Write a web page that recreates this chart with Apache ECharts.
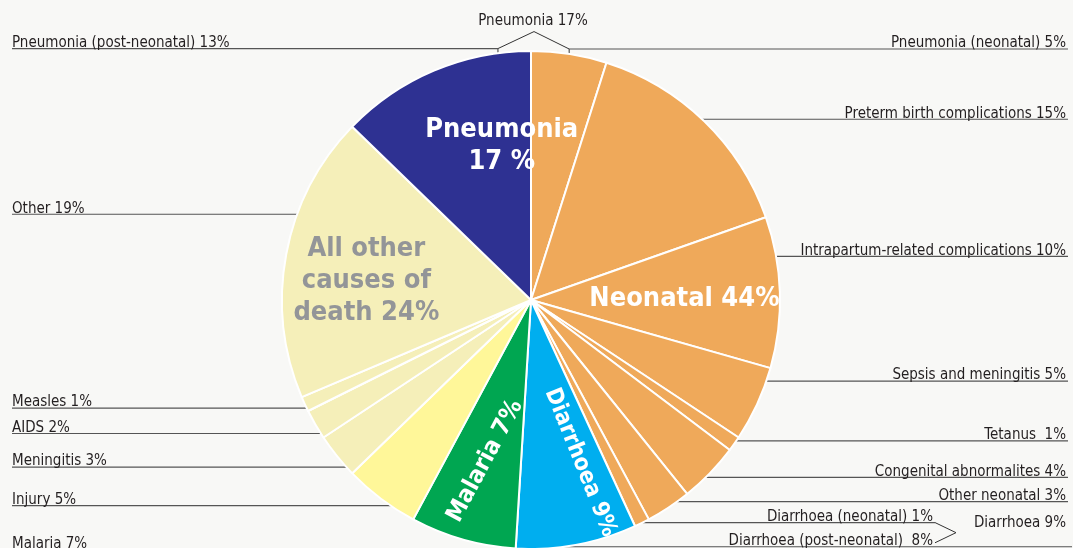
<!DOCTYPE html>
<html>
<head>
<meta charset="utf-8">
<title>Causes of under-five deaths</title>
<script src="https://cdn.jsdelivr.net/npm/echarts@6/dist/echarts.min.js"></script>
<style>
html, body { margin: 0; padding: 0; background: #f8f8f6; }
#chart { width: 1073px; height: 548px; }
</style>
</head>
<body>
<div id="chart"></div>
<script>
// causes, clockwise from 12 o'clock
const causes = [
    'Pneumonia (neonatal)', 'Preterm birth complications', 'Intrapartum-related complications',
    'Sepsis and meningitis', 'Tetanus', 'Congenital abnormalites', 'Other neonatal',
    'Diarrhoea (neonatal)', 'Diarrhoea (post-neonatal)', 'Malaria', 'Injury', 'Meningitis',
    'AIDS', 'Measles', 'Other', 'Pneumonia (post-neonatal)'
];
const shares = [5, 15, 10, 5, 1, 4, 3, 1, 8, 7, 5, 3, 2, 1, 19, 13];
const causeLabels = [
    'Pneumonia (neonatal) 5%', 'Preterm birth complications 15%', 'Intrapartum-related complications 10%',
    'Sepsis and meningitis 5%', 'Tetanus  1%', 'Congenital abnormalites 4%', 'Other neonatal 3%',
    'Diarrhoea (neonatal) 1%', 'Diarrhoea (post-neonatal)  8%', 'Malaria 7%', 'Injury 5%', 'Meningitis 3%',
    'AIDS 2%', 'Measles 1%', 'Other 19%', 'Pneumonia (post-neonatal) 13%'
];
const groupOf = [
    'neonatal', 'neonatal', 'neonatal', 'neonatal', 'neonatal', 'neonatal', 'neonatal', 'neonatal',
    'diarrhoea', 'malaria', 'injury', 'other', 'other', 'other', 'other', 'pneumonia'
];
// big labels inside the pie
const innerLabels = ['', '', 'Neonatal 44%', '', '', '', '', '', 'Diarrhoea 9%', 'Malaria 7%',
    '', '', '', '', 'All other\ncauses of\ndeath 24%', 'Pneumonia\n17 %'];
const groupHeaders = ['Pneumonia 17%', 'Diarrhoea 9%'];

const colors = {
    neonatal: '#efa95a', pneumonia: '#2e3192', diarrhoea: '#00aeef',
    malaria: '#00a651', injury: '#fff799', other: '#f5efb9'
};

const W = 1073;
const CX = 531, CY = 300, R = 249;
const FONT = '"Liberation Sans Narrow", "DejaVu Sans Condensed", Roboto, sans-serif';

// per label tweaks for the inner texts (offset is in the rotated text frame)
const innerStyle = {
    2: { fontSize: 27, offset: [-14, 4] },
    8: { fontSize: 23, rotate: -68, offset: [5, -18] },
    9: { fontSize: 24, rotate: 62 },
    14: { fontSize: 27, lineHeight: 32, color: '#939598', offset: [0, 12] },
    15: { fontSize: 27, lineHeight: 32, offset: [36, 0] }
};
// label lines the original moved off the slice middle
const labelNudge = { 1: -2, 2: -36, 3: -23, 4: -3, 5: 4, 6: -6, 7: -2, 8: 2, 9: 10, 10: 7, 11: 11, 12: 9, 13: 4, 14: -40 };
const tickShift = { 15: 64 };

// which side a slice's label falls on, from the running total
const total = shares.reduce((a, b) => a + b, 0);
let run = 0;
const onLeft = shares.map(v => { const mid = run + v / 2; run += v; return mid > total / 2; });

const chart = echarts.init(document.getElementById('chart'));
const guides = {}; // label line ends, filled by labelLayout

const option = {
    backgroundColor: '#f8f8f6',
    animation: false,
    series: [
        {
            type: 'pie',
            left: 0, top: 0, width: W, height: 640,
            center: [CX, CY],
            radius: [0, R],
            startAngle: 90,
            clockwise: true,
            avoidLabelOverlap: true,
            itemStyle: { borderColor: '#ffffff', borderWidth: 2 },
            label: {
                position: 'outside',
                alignTo: 'edge',
                edgeDistance: 7,
                overflow: 'none',
                fontFamily: FONT,
                fontSize: 15,
                color: '#231f20',
                formatter: p => causeLabels[p.dataIndex]
            },
            labelLine: { show: true, length: 0, length2: 0, lineStyle: { color: '#555', width: 1.2 } },
            labelLayout: function (params) {
                const pts = params.labelLinePoints;
                if (!pts) return {};
                const i = params.dataIndex;
                const r = params.labelRect;
                const left = r.x + r.width / 2 < CX;
                const y = pts[2][1] + (labelNudge[i] || 0);
                const dy = y - CY;
                let start;
                if (Math.abs(dy) < R - 1) {
                    const half = Math.sqrt(R * R - dy * dy);
                    start = [[left ? CX - half : CX + half, y]];
                } else if (dy > 0) {
                    start = [[pts[0][0], y]];
                } else {
                    const tx = pts[0][0] + (tickShift[i] || 0);
                    const ty = CY - Math.sqrt(Math.max(R * R - (tx - CX) * (tx - CX), 0)) + 3;
                    start = [[tx, ty], [tx, y]];
                }
                let endX = left ? r.x : r.x + r.width + 2;
                if (i === 8) endX = W - 1;
                guides[i] = { inner: start[start.length - 1], end: [endX, y] };
                const points = start.length === 2 ? [start[0], start[1], [endX, y]] : [start[0], start[0], [endX, y]];
                return { y: y + 2, verticalAlign: 'bottom', labelLinePoints: points };
            },
            data: shares.map((v, i) => {
                const item = { name: causes[i], value: v, itemStyle: { color: colors[groupOf[i]] } };
                if (i === 0) item.labelLine = { length: 5 };
                if (i === 15) item.labelLine = { length: 24 };
                if (i === 7 || i === 8) item.label = { edgeDistance: 140 };
                else if (onLeft[i]) item.label = { edgeDistance: 12 };
                return item;
            })
        },
        {
            type: 'pie',
            silent: true,
            left: 0, top: 0, width: W, height: 640,
            center: [CX, CY],
            radius: [80, R],
            startAngle: 90,
            clockwise: true,
            itemStyle: { color: 'rgba(0,0,0,0)' },
            labelLayout: { hideOverlap: false },
            label: {
                position: 'inside',
                fontFamily: FONT,
                fontWeight: 'bold',
                fontSize: 27,
                color: '#ffffff'
            },
            labelLine: { show: false },
            data: shares.map((v, i) => ({
                name: causes[i],
                value: v,
                label: innerLabels[i]
                    ? Object.assign({ show: true, formatter: innerLabels[i] }, innerStyle[i])
                    : { show: false }
            }))
        }
    ]
};
chart.setOption(option);

// group brackets, hung on the label lines drawn by the pie
function brackets() {
    const a = guides[15], b = guides[0], c = guides[7], d = guides[8];
    const g = [];
    const lineStyle = { stroke: '#333', lineWidth: 1 };
    if (a && b) {
        const topY = Math.min(a.inner[1], b.inner[1]) - 17;
        g.push({ type: 'polyline', silent: true, shape: { points: [a.inner, [CX + 3, topY], b.inner] }, style: Object.assign({ fill: null }, lineStyle) });
        g.push({ type: 'text', silent: true, x: CX + 2, y: topY - 3, style: { text: groupHeaders[0], font: '15px ' + FONT, fill: '#231f20', align: 'center', verticalAlign: 'bottom' } });
    }
    if (c && d) {
        const lowY = d.end[1] - 4;
        const tipY = (c.end[1] + lowY) / 2;
        const tipX = c.end[0] + 21;
        g.push({ type: 'polyline', silent: true, shape: { points: [c.end, [tipX, tipY], [c.end[0], lowY]] }, style: Object.assign({ fill: null }, lineStyle) });
        g.push({ type: 'text', silent: true, x: W - 7, y: tipY - 10, style: { text: groupHeaders[1], font: '15px ' + FONT, fill: '#231f20', align: 'right', verticalAlign: 'middle' } });
    }
    chart.setOption({ graphic: g });
}
brackets();
</script>
</body>
</html>
